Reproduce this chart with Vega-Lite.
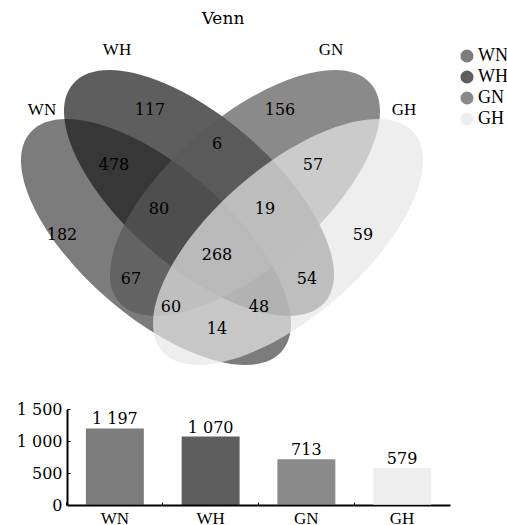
{
  "$schema": "https://vega.github.io/schema/vega-lite/v6.json",
  "padding": {"top": 10, "left": 0, "right": 0, "bottom": 0},
  "spacing": 14,
  "config": {
    "locale": {"number": {"decimal": ".", "thousands": " ", "grouping": [3], "currency": ["", ""]}},
    "view": {"stroke": null},
    "font": "DejaVu Serif"
  },
  "datasets": {
    "sets": [
      {"set": "WN", "x": 156, "y": 240},
      {"set": "WH", "x": 199, "y": 191},
      {"set": "GN", "x": 245, "y": 191},
      {"set": "GH", "x": 288, "y": 240}
    ],
    "names": [
      {"set": "WN", "x": 42, "y": 108},
      {"set": "WH", "x": 117, "y": 48},
      {"set": "GN", "x": 331, "y": 48},
      {"set": "GH", "x": 404, "y": 108}
    ],
    "regions": [
      {"n": 117, "x": 150, "y": 108},
      {"n": 156, "x": 280, "y": 108},
      {"n": 6, "x": 217, "y": 142},
      {"n": 478, "x": 114, "y": 163},
      {"n": 57, "x": 313, "y": 163},
      {"n": 80, "x": 159, "y": 207},
      {"n": 19, "x": 265, "y": 207},
      {"n": 182, "x": 62, "y": 233},
      {"n": 59, "x": 363, "y": 233},
      {"n": 268, "x": 217, "y": 253},
      {"n": 67, "x": 131, "y": 277},
      {"n": 54, "x": 307, "y": 277},
      {"n": 60, "x": 171, "y": 305},
      {"n": 48, "x": 259, "y": 305},
      {"n": 14, "x": 217, "y": 327}
    ],
    "totals": [
      {"set": "WN", "count": 1197},
      {"set": "WH", "count": 1070},
      {"set": "GN", "count": 713},
      {"set": "GH", "count": 579}
    ]
  },
  "vconcat": [
    {
      "width": 390,
      "height": 353,
      "title": {"text": "Venn", "font": "DejaVu Serif", "fontSize": 17, "fontWeight": "normal", "color": "black", "anchor": "middle", "offset": 6, "dx": -39},
      "encoding": {
        "x": {"field": "x", "type": "quantitative", "scale": {"domain": [67, 457], "nice": false, "zero": false}, "axis": null},
        "y": {"field": "y", "type": "quantitative", "scale": {"domain": [385, 32], "nice": false, "zero": false}, "axis": null}
      },
      "layer": [
        {
          "data": {"name": "sets"},
          "transform": [{"filter": "datum.set === 'WN' || datum.set === 'WH'"}],
          "mark": {"type": "point", "shape": "M 1 0 C 1 0.2469 0.5523 0.447 0 0.447 C -0.5523 0.447 -1 0.2469 -1 0 C -1 -0.2469 -0.5523 -0.447 0 -0.447 C 0.5523 -0.447 1 -0.2469 1 0 Z", "size": 111156, "angle": 41, "filled": true, "fillOpacity": 0.7, "strokeWidth": 0},
          "encoding": {
            "color": {"field": "set", "type": "nominal", "scale": {"domain": ["WN", "WH", "GN", "GH"], "range": ["#454545", "#1a1a1a", "#585858", "#e7e7e7"]},
              "legend": {"orient": "none", "legendX": 391, "legendY": 13, "title": null, "symbolType": "circle", "symbolSize": 170, "symbolStrokeWidth": 0, "symbolOpacity": 0.7, "labelFont": "Liberation Serif", "labelFontSize": 18, "labelColor": "black", "labelOffset": 2, "rowPadding": 3, "padding": 0}}
          }
        },
        {
          "data": {"name": "sets"},
          "transform": [{"filter": "datum.set === 'GN' || datum.set === 'GH'"}],
          "mark": {"type": "point", "shape": "M 1 0 C 1 0.2469 0.5523 0.447 0 0.447 C -0.5523 0.447 -1 0.2469 -1 0 C -1 -0.2469 -0.5523 -0.447 0 -0.447 C 0.5523 -0.447 1 -0.2469 1 0 Z", "size": 111156, "angle": 319, "filled": true, "fillOpacity": 0.7, "strokeWidth": 0},
          "encoding": {
            "color": {"field": "set", "type": "nominal"}
          }
        },
        {
          "data": {"name": "names"},
          "mark": {"type": "text", "font": "Liberation Serif", "fontSize": 17, "color": "black", "align": "center", "baseline": "middle"},
          "encoding": {"text": {"field": "set"}}
        },
        {
          "data": {"name": "regions"},
          "mark": {"type": "text", "font": "DejaVu Serif", "fontSize": 16, "color": "black", "align": "center", "baseline": "middle"},
          "encoding": {"text": {"field": "n", "type": "quantitative"}}
        }
      ]
    },
    {
      "width": 383,
      "height": 96,
      "data": {"name": "totals"},
      "encoding": {
        "x": {"field": "set", "type": "nominal", "sort": ["WN", "WH", "GN", "GH"], "scale": {"paddingInner": 0.395, "paddingOuter": 0.1975},
          "axis": {"title": null, "labelAngle": 0, "labelFont": "Liberation Serif", "labelFontSize": 17, "labelColor": "black", "labelPadding": 8, "domainColor": "black", "domainWidth": 2, "tickColor": "black", "tickSize": -3, "bandPosition": -0.33}},
        "y": {"field": "count", "type": "quantitative", "scale": {"domain": [0, 1500], "nice": false},
          "axis": {"title": null, "values": [0, 500, 1000, 1500], "format": ",d", "grid": false, "minExtent": 67, "labelFont": "DejaVu Serif", "labelFontSize": 16, "labelColor": "black", "labelPadding": 8, "domainColor": "black", "domainWidth": 2, "tickColor": "black", "tickSize": -3}}
      },
      "layer": [
        {"mark": {"type": "bar", "fillOpacity": 0.7}, "encoding": {"color": {"field": "set", "type": "nominal"}}},
        {"mark": {"type": "text", "baseline": "bottom", "dy": -1, "font": "DejaVu Serif", "fontSize": 16, "color": "black"}, "encoding": {"text": {"field": "count", "type": "quantitative", "format": ","}}}
      ]
    }
  ]
}
